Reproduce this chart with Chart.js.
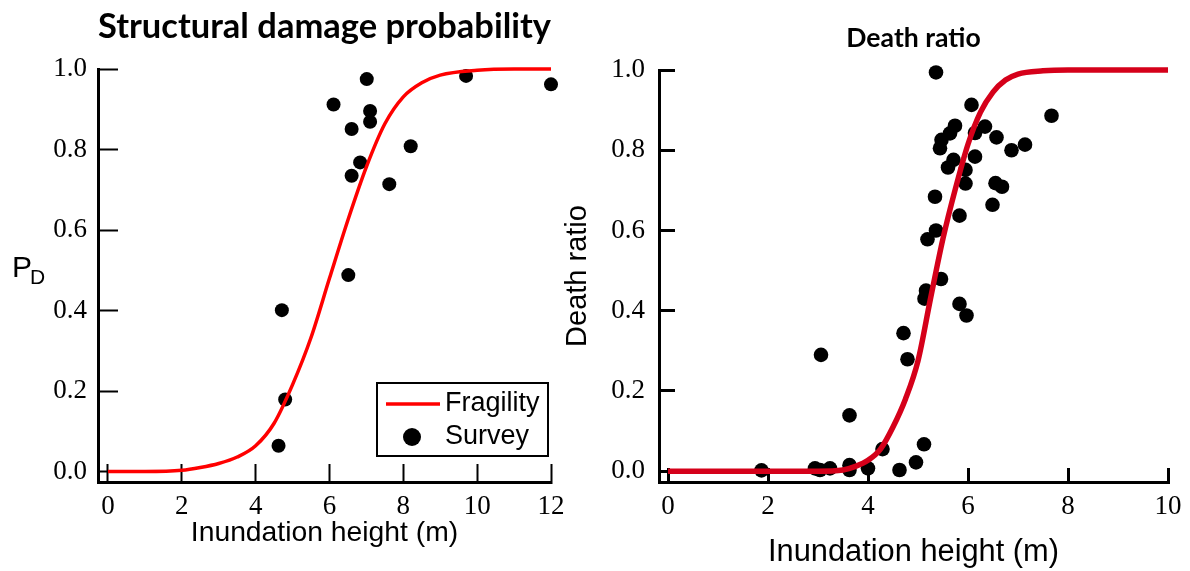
<!DOCTYPE html>
<html><head><meta charset="utf-8">
<script src="https://cdn.jsdelivr.net/npm/chart.js@4.4.1/dist/chart.umd.min.js"></script>
<style>
html,body{margin:0;padding:0;background:#fff;}
#wrap{position:relative;width:1190px;height:571px;overflow:hidden;background:#fff;}
canvas{position:absolute;top:0;}
#c1{left:0;} #c2{left:540px;}
</style></head><body>
<div id="wrap"><canvas id="c1" width="600" height="571"></canvas><canvas id="c2" width="650" height="571"></canvas></div>
<script>
// ---------- Left panel: structural damage probability ----------
const leftTitle = 'Structural damage probability';
const leftXTicks = [0, 2, 4, 6, 8, 10, 12];
const leftYTicks = [0.0, 0.2, 0.4, 0.6, 0.8, 1.0];
const leftFragX = [0, 1, 2, 2.5, 3, 3.5, 4, 4.5, 5, 5.5, 6, 6.5, 7, 7.5, 8, 8.5, 9, 10, 11, 12];
const leftFragY = [0, 0, 0.003, 0.01, 0.02, 0.036, 0.064, 0.12, 0.216, 0.333, 0.48, 0.625, 0.757, 0.864, 0.931, 0.966, 0.985, 0.997, 1.0, 1.0];
const leftSurveyX = [7.01, 6.11, 7.10, 7.10, 6.60, 8.20, 6.83, 6.60, 7.62, 9.70, 12.0, 6.51, 4.71, 4.80, 4.62];
const leftSurveyY = [0.975, 0.912, 0.896, 0.869, 0.851, 0.808, 0.768, 0.735, 0.714, 0.983, 0.962, 0.488, 0.401, 0.179, 0.064];

// ---------- Right panel: death ratio ----------
const rightTitle = 'Death ratio';
const rightXTicks = [0, 2, 4, 6, 8, 10];
const rightYTicks = [0.0, 0.2, 0.4, 0.6, 0.8, 1.0];
const rightFragX = [0, 1, 2, 3, 3.5, 3.75, 4, 4.25, 4.5, 4.75, 5, 5.25, 5.5, 5.75, 6, 6.25, 6.5, 6.75, 7, 7.5, 8, 9, 10];
const rightFragY = [0, 0, 0, 0, 0.003, 0.012, 0.027, 0.055, 0.11, 0.18, 0.275, 0.43, 0.58, 0.705, 0.815, 0.895, 0.945, 0.975, 0.99, 0.998, 1, 1, 1];
const rightSurveyX = [1.87, 2.94, 3.04, 3.24, 3.63, 3.63, 4.00, 4.63, 4.96, 5.12, 4.29, 3.63, 3.06, 4.71, 4.79,
  5.46, 5.16, 5.13, 5.83, 5.97, 5.36, 5.19, 5.83, 6.49, 5.34,
  5.36, 6.07, 7.67, 5.74, 6.34, 5.64, 5.47, 5.44, 6.14, 6.57, 6.87, 7.14, 6.14, 5.71, 5.60, 5.95, 5.95, 6.55, 6.68];
const rightSurveyY = [0.002, 0.007, 0.003, 0.007, 0.003, 0.015, 0.007, 0.003, 0.022, 0.067, 0.055, 0.139, 0.290, 0.344, 0.279,
  0.479, 0.450, 0.430, 0.417, 0.388, 0.600, 0.578, 0.637, 0.664, 0.684,
  0.994, 0.913, 0.886, 0.861, 0.859, 0.842, 0.826, 0.805, 0.843, 0.832, 0.800, 0.814, 0.784, 0.776, 0.757, 0.751, 0.717, 0.718, 0.709];

const seriesLabels = ['Fragility', 'Survey'];

function pts(xs, ys) { return xs.map((x, i) => ({x: x, y: ys[i]})); }

Chart.defaults.font.family = "'Liberation Sans', Arial, sans-serif";
Chart.defaults.color = '#000';

// Left chart "P_D" axis label (horizontal, with subscript)
const pdLabel = {
  id: 'pdLabel',
  afterDraw(chart) {
    const ctx = chart.ctx;
    ctx.save();
    ctx.fillStyle = '#000';
    ctx.textBaseline = 'alphabetic';
    ctx.textAlign = 'left';
    ctx.font = "30px 'Liberation Sans', Arial, sans-serif";
    ctx.fillText('P', 12, 277);
    ctx.font = "21px 'Liberation Sans', Arial, sans-serif";
    ctx.fillText('D', 30, 284);
    ctx.restore();
  }
};

// Boxed legend inside the lower right corner of the left plot
const boxLegend = {
  id: 'boxLegend',
  afterDraw(chart) {
    const ctx = chart.ctx, a = chart.chartArea;
    const w = 171, h = 73;
    const x0 = a.right - 3 - w, y0 = a.bottom - 26 - h;
    const line = chart.data.datasets[0], dots = chart.data.datasets[1];
    ctx.save();
    ctx.fillStyle = '#fff';
    ctx.fillRect(x0, y0, w, h);
    ctx.strokeStyle = '#000';
    ctx.lineWidth = 2;
    ctx.strokeRect(x0, y0, w, h);
    ctx.strokeStyle = line.borderColor;
    ctx.lineWidth = line.borderWidth;
    ctx.beginPath();
    ctx.moveTo(x0 + 9, y0 + 21);
    ctx.lineTo(x0 + 63, y0 + 21);
    ctx.stroke();
    ctx.fillStyle = dots.backgroundColor;
    ctx.beginPath();
    ctx.arc(x0 + 35, y0 + 54, 9, 0, Math.PI * 2);
    ctx.fill();
    ctx.fillStyle = '#000';
    ctx.font = "27px 'Liberation Sans', Arial, sans-serif";
    ctx.textBaseline = 'middle';
    ctx.textAlign = 'left';
    ctx.fillText(line.label, x0 + 68, y0 + 21);
    ctx.fillText(dots.label, x0 + 68, y0 + 54);
    ctx.restore();
  }
};

function makeChart(canvasId, cfg) {
  return new Chart(document.getElementById(canvasId), {
    type: 'scatter',
    data: {
      datasets: [
        {label: seriesLabels[0], data: pts(cfg.fragX, cfg.fragY), showLine: true, borderColor: cfg.lineColor,
         borderWidth: cfg.lineWidth, pointRadius: 0, pointHoverRadius: 0, fill: false,
         cubicInterpolationMode: 'monotone', clip: false, order: 0},
        {label: seriesLabels[1], data: pts(cfg.surX, cfg.surY), showLine: false, backgroundColor: '#000',
         borderColor: '#000', borderWidth: 0, pointRadius: cfg.dotR, pointHoverRadius: cfg.dotR, clip: false, order: 1}
      ]
    },
    options: {
      responsive: false, animation: false, devicePixelRatio: 1,
      events: [],
      layout: {padding: {top: 0, left: 0, right: cfg.padRight, bottom: 0}},
      plugins: {
        legend: {display: false}, tooltip: {enabled: false},
        title: {display: true, text: cfg.title, fullSize: false, color: '#000',
          font: {family: "Lato, 'Open Sans', sans-serif", weight: 'bold', size: cfg.titleSize, lineHeight: 1.2},
          padding: {top: cfg.titlePadTop, bottom: cfg.titlePadBottom}}
      },
      scales: {
        x: {
          type: 'linear', position: 'bottom', min: cfg.xMin, max: cfg.xTicks[cfg.xTicks.length - 1],
          afterFit: s => { s.height = 89; },
          grid: {drawOnChartArea: false, drawTicks: true, tickLength: cfg.xTickLen, tickWidth: cfg.tickW, tickColor: '#000'},
          border: {display: true, color: '#000', width: 3},
          ticks: {stepSize: cfg.xTicks[1] - cfg.xTicks[0], includeBounds: false, autoSkip: false, maxRotation: 0, minRotation: 0,
            padding: 0, color: '#000',
            font: {family: "'Liberation Serif', 'Times New Roman', serif", size: 27, lineHeight: cfg.xTickLH},
            callback: v => cfg.xTicks.includes(v) ? String(v) : ''},
          title: {display: true, text: 'Inundation height (m)', color: '#000',
            font: {family: "'Liberation Sans', Arial, sans-serif", size: cfg.xTitleSize, lineHeight: 1.2},
            padding: {top: 0, bottom: cfg.xTitlePadBottom}}
        },
        y: {
          type: 'linear', position: 'left', min: cfg.yMin, max: 1.0,
          afterFit: s => { s.width = cfg.yWidth; },
          grid: {drawOnChartArea: false, drawTicks: true, tickLength: cfg.yTickLen, tickWidth: cfg.tickW, tickColor: '#000'},
          border: {display: true, color: '#000', width: 3},
          ticks: {stepSize: 0.2, includeBounds: false, autoSkip: false, padding: cfg.yTickPad, color: '#000',
            font: {family: "'Liberation Serif', 'Times New Roman', serif", size: 27},
            callback: v => cfg.yTicks.some(t => Math.abs(t - v) < 1e-6) ? v.toFixed(1) : ''},
          title: cfg.yTitle ? {display: true, text: cfg.yTitle, color: '#000',
            font: {family: "'Liberation Sans', Arial, sans-serif", size: 29, lineHeight: 1.2},
            padding: {top: cfg.yTitlePadTop, bottom: 0}} : {display: false}
        }
      }
    },
    plugins: cfg.plugins
  });
}

makeChart('c1', {
  title: leftTitle, titleSize: 34.7, titlePadTop: 6.2, titlePadBottom: 21.2,
  fragX: leftFragX, fragY: leftFragY, surX: leftSurveyX, surY: leftSurveyY,
  lineColor: '#ff0000', lineWidth: 3.5, dotR: 7,
  xTicks: leftXTicks, yTicks: leftYTicks, xMin: -0.27, yMin: -0.026,
  padRight: 49, yWidth: 98,
  xTickLen: -18, yTickLen: -20, tickW: 2, xTickLH: 86 / 27, yTickPad: 31,
  xTitleSize: 28.3, xTitlePadBottom: 21,
  yTitle: null,
  plugins: [pdLabel, boxLegend]
});

makeChart('c2', {
  title: rightTitle, titleSize: 26.6, titlePadTop: 22, titlePadBottom: 16.1,
  fragX: rightFragX, fragY: rightFragY, surX: rightSurveyX, surY: rightSurveyY,
  lineColor: 'rgb(213,0,26)', lineWidth: 5.5, dotR: 7.3,
  xTicks: rightXTicks, yTicks: rightYTicks, xMin: -0.18, yMin: -0.027,
  padRight: 22, yWidth: 119,
  xTickLen: -14, yTickLen: -16, tickW: 3, xTickLH: 78 / 27, yTickPad: 30,
  xTitleSize: 30.8, xTitlePadBottom: 0.5,
  yTitle: 'Death ratio', yTitlePadTop: 20.6,
  plugins: []
});
</script>
</body></html>
